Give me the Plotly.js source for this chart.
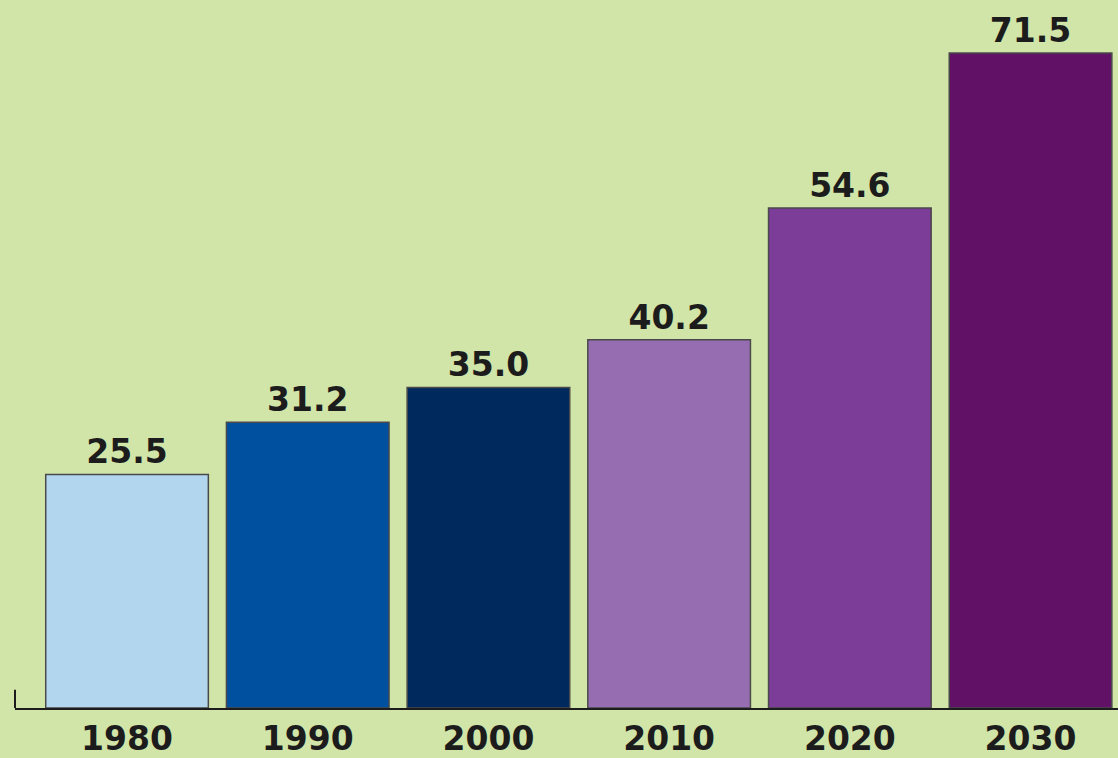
<!DOCTYPE html>
<html>
<head>
<meta charset="utf-8">
<script src="https://cdn.plot.ly/plotly-3.0.1.min.js"></script>
<style>html,body{margin:0;padding:0;background:#d1e5a8;}#chart{width:1118px;height:758px;}</style>
</head>
<body>
<div id="chart"></div>
<script>
const years = ["1980", "1990", "2000", "2010", "2020", "2030"];
const values = [25.5, 31.2, 35.0, 40.2, 54.6, 71.5];
const barColors = ["#b3d6ef", "#0050a0", "#002a5e", "#956db0", "#7b3d98", "#621266"];
const valueLabels = values.map(v => v.toFixed(1));

const trace = {
  type: "bar",
  x: years,
  y: values,
  text: valueLabels,
  textposition: "outside",
  cliponaxis: false,
  outsidetextfont: {family: "DejaVu Sans", size: 33, color: "#1c1c1c", weight: "bold"},
  marker: {color: barColors, line: {color: "#4a4a4a", width: 1.5}},
  hoverinfo: "none"
};

const layout = {
  width: 1118,
  height: 758,
  margin: {l: 15, r: 0, t: 0, b: 50},
  paper_bgcolor: "#d1e5a8",
  plot_bgcolor: "#d1e5a8",
  bargap: 0.1,
  showlegend: false,
  xaxis: {
    type: "category",
    range: [-0.62, 5.484],
    showline: true,
    linecolor: "#1c1c1c",
    linewidth: 2,
    showgrid: false,
    zeroline: false,
    ticks: "",
    tickfont: {family: "DejaVu Sans", size: 33, color: "#1c1c1c", weight: "bold"}
  },
  yaxis: {
    range: [0, 77.3],
    visible: false,
    showgrid: false,
    zeroline: false
  },
  shapes: [{
    type: "line", xref: "paper", yref: "y",
    x0: 0, x1: 0, y0: 0, y1: 2.0,
    line: {color: "#1c1c1c", width: 2}
  }]
};

Plotly.newPlot("chart", [trace], layout, {staticPlot: true, displayModeBar: false});
</script>
</body>
</html>
